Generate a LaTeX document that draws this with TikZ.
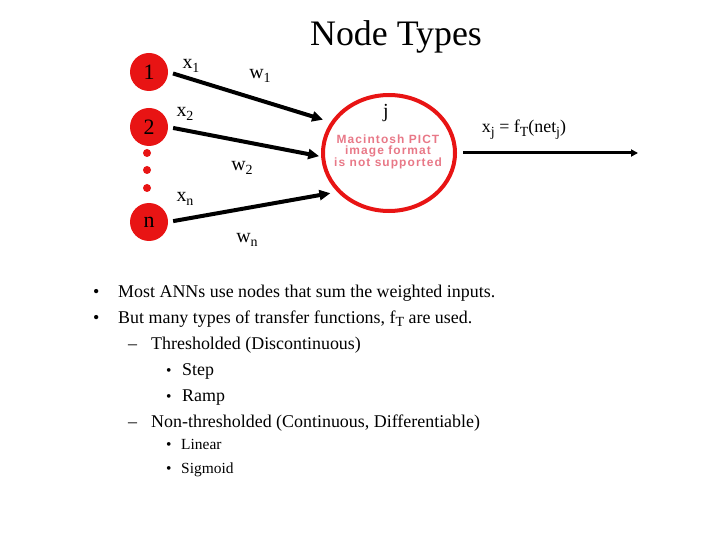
\documentclass[tikz,border=0pt]{standalone}
\usepackage{fontspec}
\setmainfont{Liberation Serif}
\newfontfamily\pictfont[LetterSpace=9]{Liberation Sans}
\usetikzlibrary{arrows.meta,shapes.geometric}
\definecolor{nodered}{RGB}{232,20,20}
\definecolor{pictpink}{RGB}{232,120,135}
\newcommand{\lowidx}[1]{\raisebox{-.45ex}{\fontsize{14}{14}\selectfont #1}}
\tikzset{
  inp/.style={circle,fill=nodered,minimum size=38bp,inner sep=0pt,font=\fontsize{22}{22}\selectfont},
  dt/.style={circle,fill=nodered,minimum size=8bp,inner sep=0pt},
  unit/.style={ellipse,draw=nodered,line width=4bp,minimum width=132bp,minimum height=116bp,inner sep=0pt},
  wt/.style={-{Triangle[length=11bp,width=10bp]},line width=4bp,draw=black,shorten <=5bp},
  outl/.style={-{Triangle[length=7bp,width=7bp]},line width=3bp,draw=black,shorten <=6bp},
  lb/.style={font=\fontsize{20}{20}\selectfont,inner sep=0pt},
  pict/.style={font=\pictfont\bfseries\fontsize{12}{10.5}\selectfont,text=pictpink,align=center,inner sep=0pt},
  ttl/.style={font=\fontsize{36}{36}\selectfont,inner sep=0pt},
  txt/.style={anchor=base west,font=\fontsize{18}{18}\selectfont,inner sep=0pt},
  sml/.style={anchor=base west,font=\fontsize{15.5}{15.5}\selectfont,inner sep=0pt},
}
\begin{document}
\begin{tikzpicture}[x=1bp,y=-1bp]
\useasboundingbox (0,0) rectangle (720,540);
% ---------------- title
\node[ttl,anchor=base] (title) at (396,46) {Node Types};
% ---------------- inputs
\node[inp] (c1) at (149,72) {1};
\node[inp] (c2) at (149,127) {2};
\node[inp] (cn) at (149,222) {n};
\node[dt] (d1) at (147,153) {}; \node[dt] (d2) at (147,170) {}; \node[dt] (d3) at (147,188) {};
\node[lb] (x1) at (191,66) {x\lowidx{1}};
\node[lb] (x2) at (185,114) {x\lowidx{2}};
\node[lb] (xn) at (185,199) {x\lowidx{n}};
% ---------------- the unit j
\node[unit] (j) at (389,153) {};
\node[lb,anchor=base] (jl) at (386,118) {j};
\node[pict] (pc) at (388,152) {Macintosh PICT\\image format\\is not supported};
\draw[wt,shorten >=8bp] (c1.east) -- (j.152);
\draw[wt,shorten >=2bp] (c2.east) -- (j.183);
\draw[wt,shorten >=7bp] (cn.east) -- (j.217);
\node[lb] (w1) at (260,76) {w\lowidx{1}};
\node[lb] (w2) at (242,168) {w\lowidx{2}};
\node[lb] (wn) at (247,240) {w\lowidx{n}};
% ---------------- output
\coordinate (oe) at (638,153);
\draw[outl] (j.east) -- (oe);
\node[font=\fontsize{18}{18}\selectfont,anchor=base,inner sep=0pt] (fx) at (524,133)
  {x\lowidx{j} = f\lowidx{T}(net\lowidx{j})};
% ---------------- bullet list
\node[txt] (b1) at (93,297) {•};  \node[txt] (t1) at (118,297) {Most ANNs use nodes that sum the weighted inputs.};
\node[txt] (b2) at (93,323) {•};  \node[txt] (t2) at (118,323) {But many types of transfer functions, f\lowidx{T} are used.};
\node[txt] (h1) at (128,349) {–}; \node[txt] (t3) at (151,349) {Thresholded (Discontinuous)};
\node[sml] (b3) at (166,375) {•}; \node[txt] (t4) at (182,375) {Step};
\node[sml] (b4) at (166,401) {•}; \node[txt] (t5) at (182,401) {Ramp};
\node[txt] (h2) at (128,427) {–}; \node[txt] (t6) at (151,427) {Non-thresholded (Continuous, Differentiable)};
\node[sml] (b5) at (166,449) {•}; \node[sml] (t7) at (181,449) {Linear};
\node[sml] (b6) at (166,473) {•}; \node[sml] (t8) at (181,473) {Sigmoid};
\end{tikzpicture}
\end{document}
